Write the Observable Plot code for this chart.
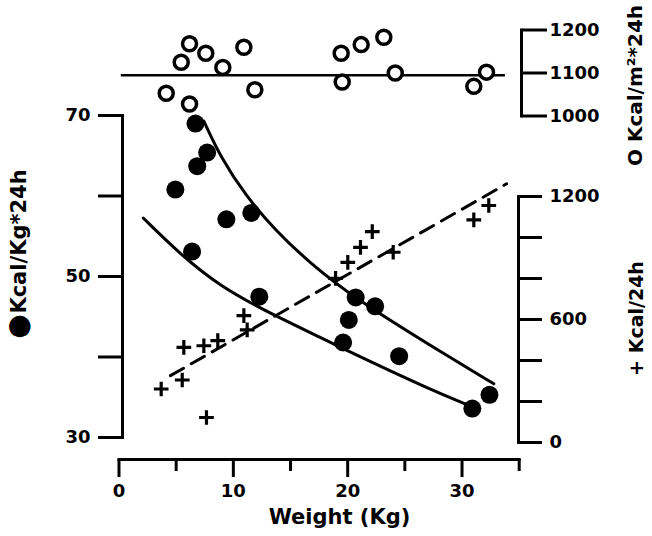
<!DOCTYPE html>
<html>
<head>
<meta charset="utf-8">
<script src="https://cdn.jsdelivr.net/npm/d3@7"></script>
<script src="https://cdn.jsdelivr.net/npm/@observablehq/plot@0.6"></script>
<style>
  body { margin: 0; background: white; }
  #chart { position: relative; width: 652px; height: 536px; }
</style>
</head>
<body>
<div id="chart"></div>
<script>
// Kcal/Kg*24h (filled circles)
const kgX = [6.69, 7.71, 6.84, 4.93, 9.39, 11.57, 6.39, 12.27, 20.7, 22.4, 20.1, 19.6, 24.5, 32.4, 30.9]
const kgY = [69.0, 65.4, 63.7, 60.8, 57.1, 57.9, 53.1, 47.5, 47.4, 46.3, 44.6, 41.8, 40.1, 35.3, 33.6]

// two fitted curves
const upperX = [7.42, 8.88, 11.06, 13.69, 16.6, 20.69, 27.25, 32.78]
const upperY = [69.3, 64.82, 60.06, 55.71, 51.78, 47.22, 41.4, 36.67]
const lowerX = [2.12, 5.38, 8.88, 12.55, 17.62, 22.0, 27.25, 30.31]
const lowerY = [57.27, 52.73, 48.76, 45.9, 42.42, 39.4, 35.96, 34.16]

// Kcal/m2*24h (open circles)
const m2X = [4.13, 5.44, 6.17, 6.17, 7.59, 9.08, 10.92, 11.88, 19.43, 19.52, 21.18, 23.16, 24.16, 31.03, 32.14]
const m2Y = [1053, 1125, 1168, 1028, 1146, 1113, 1160, 1061, 1146, 1079, 1166, 1183, 1100, 1069, 1102]
const meanM2 = 1095
const meanLineX = [0.2, 33.8]

// Kcal/24h (plus signs)
const plusX = [32.34, 31.03, 22.15, 23.98, 21.12, 20.01, 18.94, 10.92, 11.21, 8.64, 7.42, 5.67, 5.53, 3.69, 7.65]
const plusY = [1156, 1086, 1029, 928, 952, 879, 801, 619, 549, 497, 472, 464, 305, 261, 122]
const dashX = [4.5, 33.9]
const dashY = [326, 1262]

// ticks
const xMajor = [0, 10, 20, 30]
const xMinor = [5, 15, 25, 35]
const kgTicks = [30, 40, 50, 60, 70]
const kgLabels = [30, 50, 70]
const dayTicks = [0, 200, 400, 600, 800, 1000, 1200]
const dayLabels = [0, 600, 1200]
const m2Ticks = [1000, 1100, 1200]

const zip = (xs, ys) => xs.map((x, i) => ({x, y: ys[i]}))
const plain = d3.format('d')

const xScale = {domain: [0, 35], range: [118.5, 518.7], axis: null}
const base = {
  width: 652,
  height: 536,
  style: {
    position: 'absolute', left: '0px', top: '0px',
    background: 'transparent', overflow: 'visible',
    fontFamily: 'DejaVu Sans', fontWeight: 'bold', fontSize: '18px', color: 'black'
  }
}
const vlabel = {textAnchor: 'middle', lineAnchor: 'middle', rotate: -90}

// left axis: Kcal/Kg*24h
const plotKg = Plot.plot({
  ...base,
  marginLeft: 122, marginTop: 115, marginBottom: 99, marginRight: 100,
  x: xScale,
  y: {domain: [30, 70]},
  marks: [
    Plot.frame({anchor: 'left', strokeWidth: 3}),
    Plot.axisY({anchor: 'left', ticks: kgTicks, tickSize: 24, tickPadding: 8, strokeWidth: 3,
      tickFormat: d => kgLabels.includes(d) ? plain(d) : '', label: null}),
    Plot.line(zip(upperX, upperY), {x: 'x', y: 'y', curve: 'basis', strokeWidth: 3}),
    Plot.line(zip(lowerX, lowerY), {x: 'x', y: 'y', curve: 'basis', strokeWidth: 3}),
    Plot.dot(zip(kgX, kgY), {x: 'x', y: 'y', r: 9, fill: 'black'}),
    Plot.text(['Kcal/Kg*24h'], {...vlabel, frameAnchor: 'left', dx: -103, dy: -35, fontSize: 21}),
    Plot.text(['●'], {...vlabel, frameAnchor: 'left', dx: -104, dy: 50, fontSize: 28})
  ]
})

// dotted right axis: Kcal/24h
const plotDay = Plot.plot({
  ...base,
  marginLeft: 122, marginTop: 196, marginBottom: 94, marginRight: 134,
  x: xScale,
  y: {domain: [0, 1200]},
  marks: [
    Plot.frame({anchor: 'right', strokeWidth: 3, strokeDasharray: '2.5,1.8'}),
    Plot.axisY({anchor: 'right', ticks: dayTicks, tickSize: 23, tickPadding: 8, strokeWidth: 3,
      tickFormat: d => dayLabels.includes(d) ? plain(d) : '', label: null}),
    Plot.line(zip(dashX, dashY), {x: 'x', y: 'y', strokeWidth: 3, strokeDasharray: '15,9'}),
    Plot.dot(zip(plusX, plusY), {x: 'x', y: 'y', symbol: 'plus', r: 4.8, stroke: 'black', strokeWidth: 3.2}),
    Plot.text(['+ Kcal/24h'], {...vlabel, frameAnchor: 'right', dx: 118, dy: -1, fontSize: 19})
  ]
})

// top right axis: Kcal/m2*24h
const plotM2 = Plot.plot({
  ...base,
  marginLeft: 122, marginTop: 29.5, marginBottom: 420.5, marginRight: 131,
  x: xScale,
  y: {domain: [1000, 1200]},
  marks: [
    Plot.frame({anchor: 'right', strokeWidth: 3}),
    Plot.axisY({anchor: 'right', ticks: m2Ticks, tickSize: 25, tickPadding: 3, strokeWidth: 3,
      tickFormat: plain, label: null}),
    Plot.ruleY([meanM2], {x1: meanLineX[0], x2: meanLineX[1], strokeWidth: 2.5}),
    Plot.dot(zip(m2X, m2Y), {x: 'x', y: 'y', r: 7, stroke: 'black', strokeWidth: 3.5, fill: 'white'}),
    Plot.text(['O Kcal/m²*24h'], {...vlabel, frameAnchor: 'right', dx: 114, dy: 12.5, fontSize: 20})
  ]
})

// bottom axis: Weight (Kg)
const plotX = Plot.plot({
  ...base,
  marginLeft: 118.5, marginRight: 133.3, marginTop: 100, marginBottom: 77,
  x: {domain: [0, 35]},
  marks: [
    Plot.frame({anchor: 'bottom', strokeWidth: 3}),
    Plot.axisX({ticks: xMajor, tickSize: 18, tickPadding: 6.5, strokeWidth: 3, tickFormat: plain, label: null}),
    Plot.axisX({ticks: xMinor, tickSize: 12, strokeWidth: 3, tickFormat: () => '', label: null}),
    Plot.text(['Weight (Kg)'], {frameAnchor: 'bottom', textAnchor: 'middle', lineAnchor: 'middle', dx: 20.4, dy: 58, fontSize: 21})
  ]
})

const chart = d3.select('#chart')
;[plotKg, plotDay, plotM2, plotX].forEach(p => chart.append(() => p))
</script>
</body>
</html>
